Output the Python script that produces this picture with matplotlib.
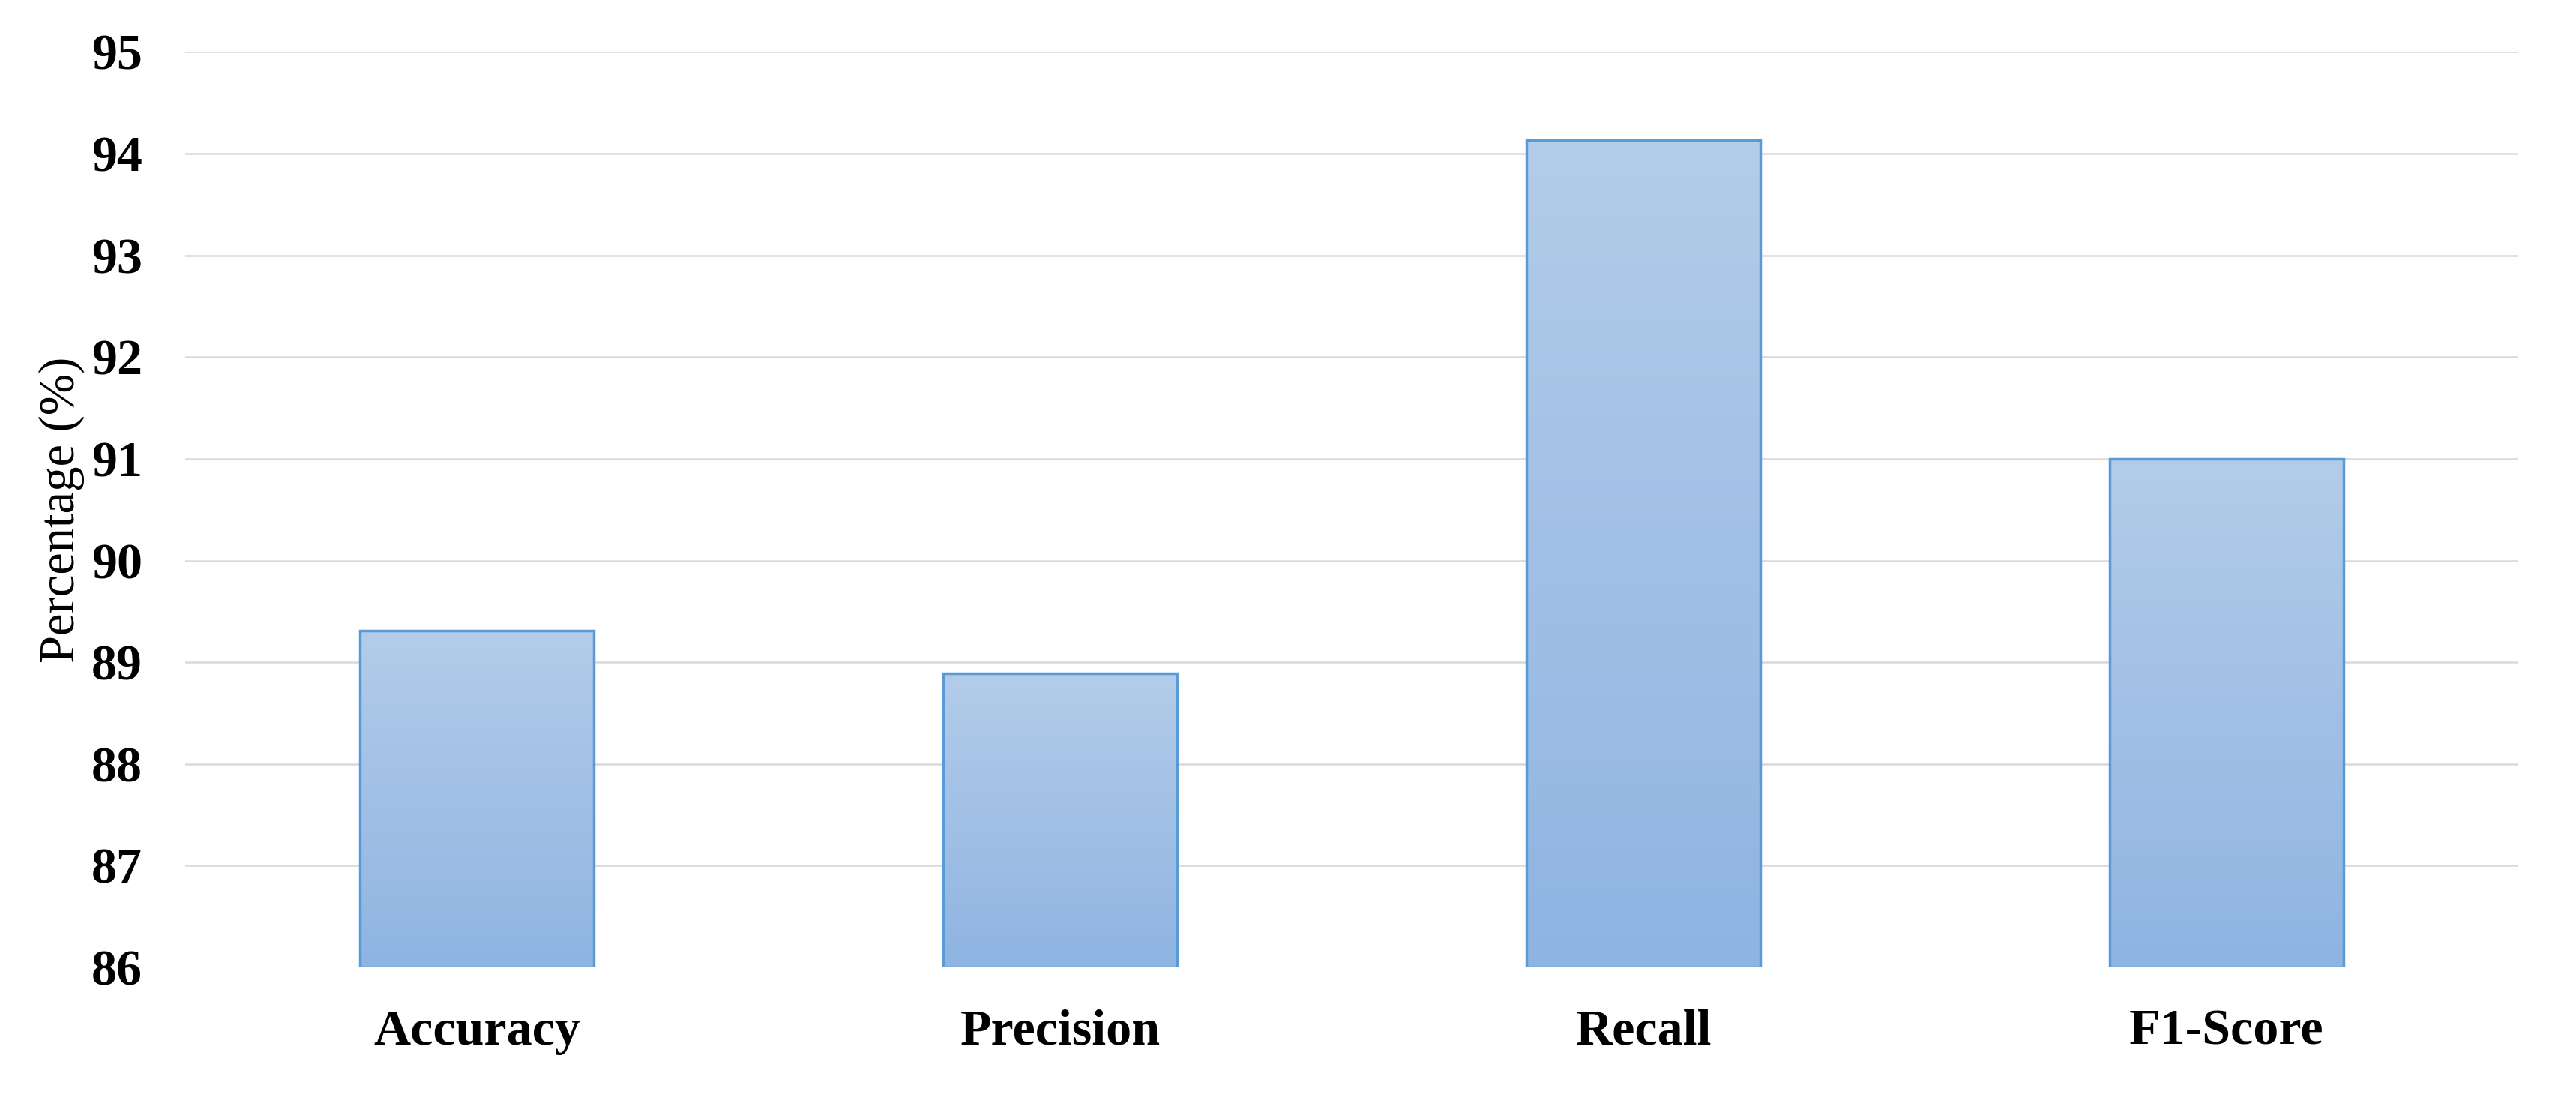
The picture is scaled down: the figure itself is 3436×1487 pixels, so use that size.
import matplotlib
matplotlib.use("Agg")
import matplotlib.pyplot as plt
import numpy as np
from matplotlib.colors import LinearSegmentedColormap

categories = ["Accuracy", "Precision", "Recall", "F1-Score"]
values = [89.31, 88.89, 94.13, 91.00]
y_ticks = [86, 87, 88, 89, 90, 91, 92, 93, 94, 95]

plt.rcParams['font.family'] = ['Liberation Serif', 'DejaVu Serif']

fig = plt.figure(figsize=(34.36, 14.87), dpi=100)
ax = fig.add_axes([0.0719, 0.1325, 0.9057, 0.8208])

x = np.arange(len(categories))
bars = ax.bar(x, [v - y_ticks[0] for v in values], bottom=y_ticks[0], width=0.40,
              facecolor='none', edgecolor='#5b9bd5', linewidth=2.5, zorder=3)

cmap = LinearSegmentedColormap.from_list('g', ['#b3cce9', '#8fb4e2'])
grad = np.linspace(0, 1, 256).reshape(-1, 1)
for b in bars:
    x0, y0, w, h = b.get_x(), b.get_y(), b.get_width(), b.get_height()
    im = ax.imshow(grad, cmap=cmap, aspect='auto', extent=(x0, x0 + w, y0, y0 + h),
                   origin='upper', zorder=2, interpolation='bilinear')
    im.set_clip_path(b)

ax.set_xlim(-0.5, len(categories) - 0.5)
ax.set_ylim(y_ticks[0], y_ticks[-1])
ax.set_yticks(y_ticks)
ax.set_xticks(x)
ax.set_xticklabels(categories)
ax.grid(axis='y', color='#d9d9d9', linewidth=1.8, zorder=0)
ax.set_axisbelow(True)
for s in ax.spines.values():
    s.set_visible(False)
ax.tick_params(axis='both', length=0, labelsize=49)
ax.tick_params(axis='y', pad=41)
ax.tick_params(axis='x', pad=40)
for lab in ax.get_xticklabels() + ax.get_yticklabels():
    lab.set_fontweight('bold')

ax.set_ylabel("Percentage (%)", fontsize=48)
ax.yaxis.set_label_coords(-0.043, 0.5)

fig.savefig("out.png", dpi=100, facecolor='white')
